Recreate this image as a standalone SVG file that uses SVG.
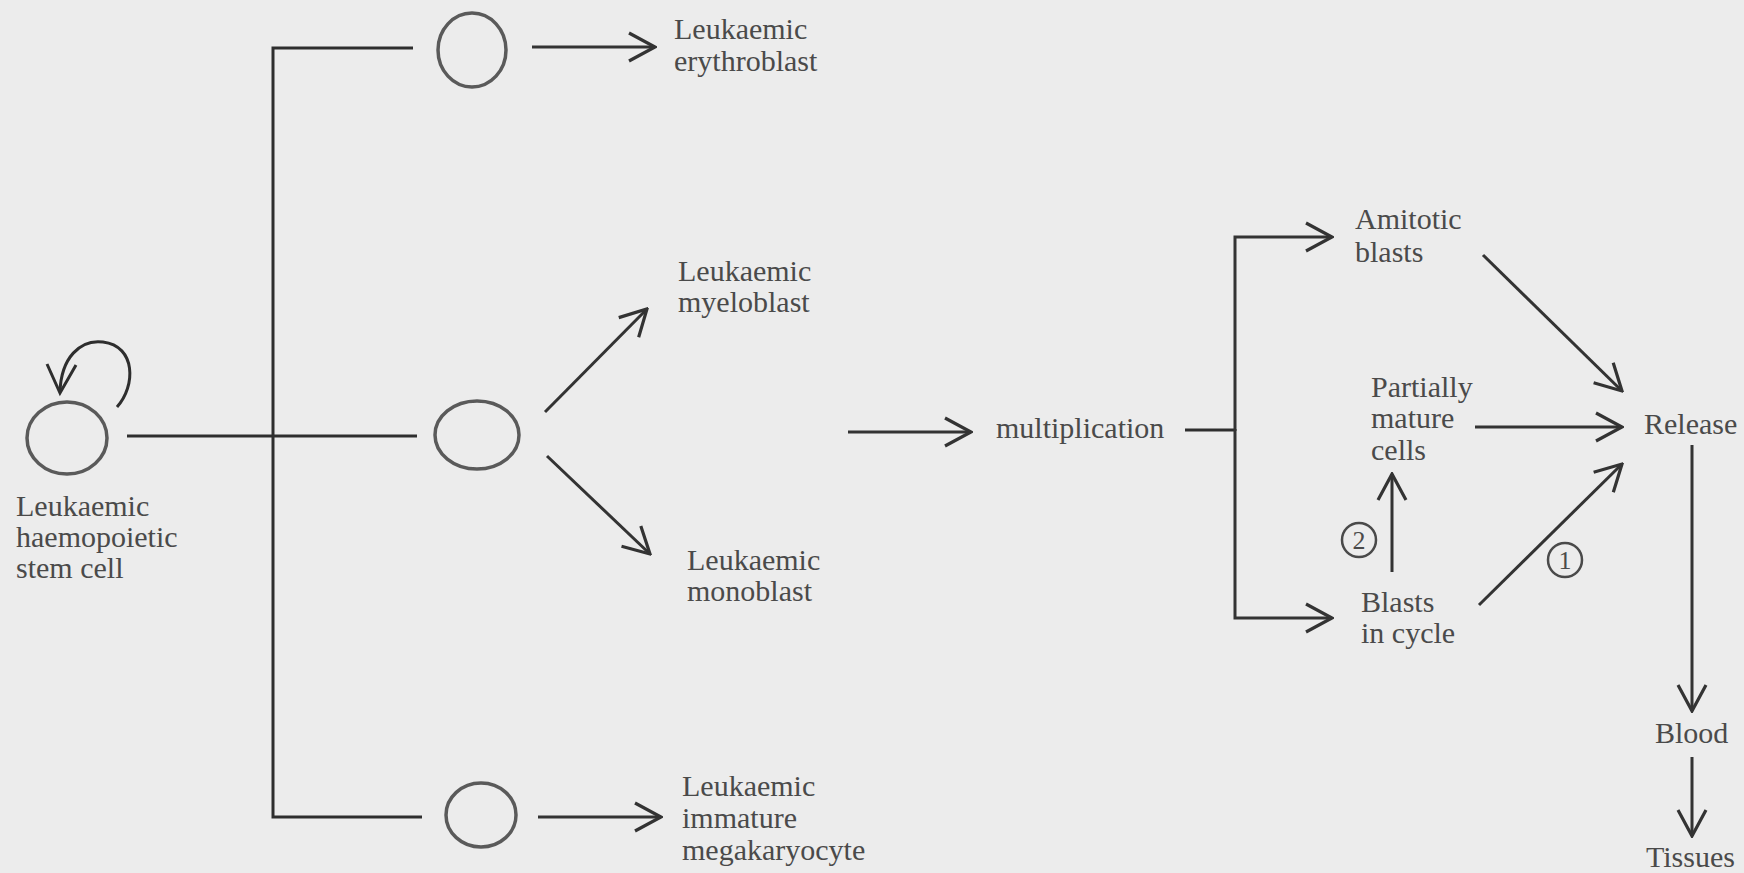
<svg xmlns="http://www.w3.org/2000/svg" width="1744" height="873" viewBox="0 0 1744 873">
  <defs>
    <style>
      .lbl { font-family: "Liberation Serif", "Times New Roman", serif; font-size: 30px; fill: #4a4a4a; }
      .num { font-family: "Liberation Serif", "Times New Roman", serif; font-size: 26px; fill: #4a4a4a; text-anchor: middle; }
      .cell { fill: none; stroke: #5a5a5a; stroke-width: 3.5; }
      .ring { fill: none; stroke: #4a4a4a; stroke-width: 2.5; }
      .ln { fill: none; stroke: #2e2e2e; stroke-width: 3; }
      .arr { fill: none; stroke: #333; stroke-width: 3; marker-end: url(#vhead); }
    </style>
    <marker id="vhead" markerUnits="userSpaceOnUse" viewBox="-30 -17 32 34" refX="0" refY="0" markerWidth="32" markerHeight="34" orient="auto">
      <path d="M-26,-14 L0,0 L-26,14" fill="none" stroke="#333" stroke-width="3.2" stroke-linejoin="miter"/>
    </marker>
  </defs>

  <rect x="0" y="0" width="1744" height="873" fill="#ececec"/>

  <!-- connectors -->
  <g id="connectors">
    <!-- self-renewal loop on the stem cell -->
    <path class="ln" d="M117,407 C136,386 136,346 103,342 C80,339 61,358 60,392" stroke="#3a3a3a"/>
    <path class="ln" d="M47,364 L60,393 L76,365" stroke="#3a3a3a"/>
    <!-- stem cell to the three lineages -->
    <path class="ln" d="M127,436 H417"/>
    <path class="ln" d="M413,48 H273 V817 H422"/>
    <!-- lineage outputs -->
    <path class="arr" d="M532,47 H655"/>
    <path class="arr" d="M545,412 L647,309"/>
    <path class="arr" d="M547,456 L650,554"/>
    <path class="arr" d="M538,817 H661"/>
    <!-- into multiplication -->
    <path class="arr" d="M848,432 H971"/>
    <path class="ln" d="M1185,430 H1235"/>
    <path class="arr" d="M1235,431 V237 H1332"/>
    <path class="arr" d="M1235,429 V618 H1332"/>
    <!-- towards release -->
    <path class="arr" d="M1483,255 L1622,391"/>
    <path class="arr" d="M1475,427 H1622"/>
    <path class="arr" d="M1479,605 L1622,464"/>
    <path class="arr" d="M1392,572 V474"/>
    <!-- release to blood to tissues -->
    <path class="arr" d="M1692,445 V711"/>
    <path class="arr" d="M1692,757 V836"/>
  </g>

  <g id="stem-cell">
    <ellipse class="cell" cx="67" cy="438" rx="40" ry="36"/>
    <text class="lbl" x="16" y="516">Leukaemic</text>
    <text class="lbl" x="16" y="547">haemopoietic</text>
    <text class="lbl" x="16" y="578">stem cell</text>
  </g>

  <g id="erythroid-cell">
    <ellipse class="cell" cx="472" cy="50" rx="34" ry="37"/>
  </g>
  <g id="myelomono-cell">
    <ellipse class="cell" cx="477" cy="435" rx="42" ry="34"/>
  </g>
  <g id="megakaryocytic-cell">
    <ellipse class="cell" cx="481" cy="815" rx="35" ry="32"/>
  </g>

  <g id="erythroblast">
    <text class="lbl" x="674" y="39">Leukaemic</text>
    <text class="lbl" x="674" y="71">erythroblast</text>
  </g>
  <g id="myeloblast">
    <text class="lbl" x="678" y="281">Leukaemic</text>
    <text class="lbl" x="678" y="312">myeloblast</text>
  </g>
  <g id="monoblast">
    <text class="lbl" x="687" y="570">Leukaemic</text>
    <text class="lbl" x="687" y="601">monoblast</text>
  </g>
  <g id="megakaryocyte">
    <text class="lbl" x="682" y="796">Leukaemic</text>
    <text class="lbl" x="682" y="828">immature</text>
    <text class="lbl" x="682" y="860">megakaryocyte</text>
  </g>

  <g id="multiplication">
    <text class="lbl" x="996" y="438">multiplication</text>
  </g>

  <g id="amitotic-blasts">
    <text class="lbl" x="1355" y="229">Amitotic</text>
    <text class="lbl" x="1355" y="262">blasts</text>
  </g>
  <g id="partially-mature">
    <text class="lbl" x="1371" y="397">Partially</text>
    <text class="lbl" x="1371" y="428">mature</text>
    <text class="lbl" x="1371" y="460">cells</text>
  </g>
  <g id="blasts-in-cycle">
    <text class="lbl" x="1361" y="612">Blasts</text>
    <text class="lbl" x="1361" y="643">in cycle</text>
  </g>

  <g id="route-2">
    <circle class="ring" cx="1359" cy="540" r="17"/>
    <text class="num" x="1359" y="549">2</text>
  </g>
  <g id="route-1">
    <circle class="ring" cx="1565" cy="560" r="17"/>
    <text class="num" x="1565" y="569">1</text>
  </g>

  <g id="release">
    <text class="lbl" x="1644" y="434">Release</text>
  </g>
  <g id="blood">
    <text class="lbl" x="1655" y="743">Blood</text>
  </g>
  <g id="tissues">
    <text class="lbl" x="1646" y="867">Tissues</text>
  </g>
</svg>
